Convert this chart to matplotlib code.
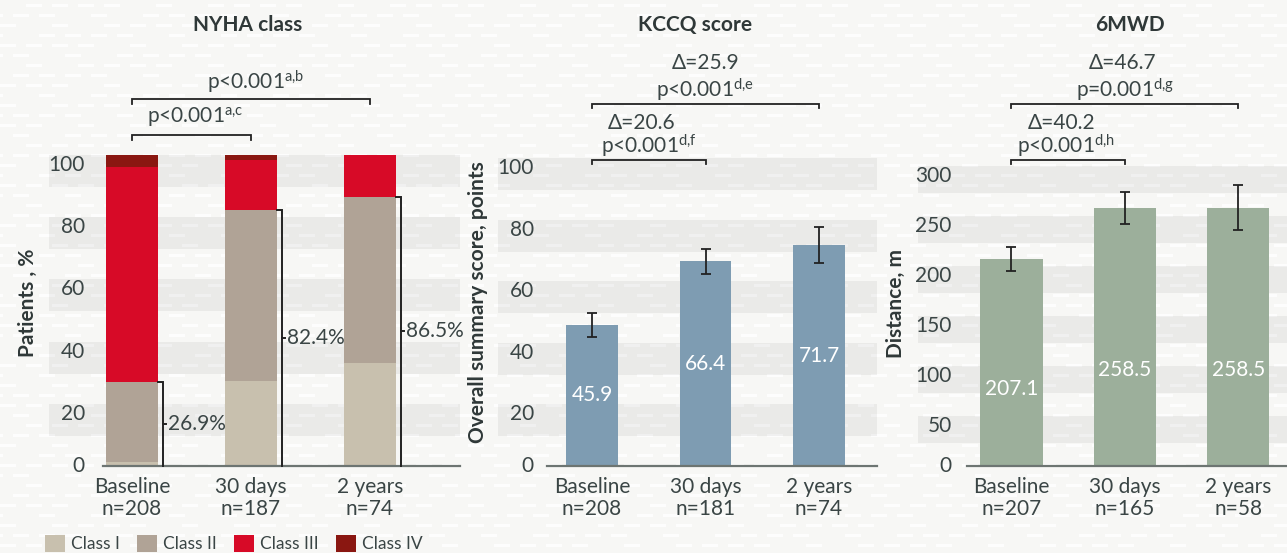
import numpy as np
import matplotlib
matplotlib.use("Agg")
import matplotlib.pyplot as plt
from matplotlib.patches import Rectangle, Patch
from matplotlib.transforms import blended_transform_factory

plt.rcParams["font.family"] = ["Lato", "DejaVu Sans"]
plt.rcParams["mathtext.fontset"] = "custom"
plt.rcParams["mathtext.rm"] = "Lato"
plt.rcParams["mathtext.it"] = "Lato:italic"
plt.rcParams["mathtext.bf"] = "Lato:bold"

# ---------------- data ----------------
timepoints = ["Baseline", "30 days", "2 years"]

nyha_n = [208, 187, 74]
nyha_class1 = [1.4, 27.4, 33.2]
nyha_class2 = [25.5, 55.0, 53.3]
nyha_class3 = [69.3, 16.0, 13.5]
nyha_class4 = [3.8, 1.6, 0.0]
nyha_class12 = [26.9, 82.4, 86.5]
nyha_classes = ["Class I", "Class II", "Class III", "Class IV"]
nyha_p = ["p<0.001", "p<0.001"]
nyha_p_notes = ["a,c", "a,b"]

kccq_n = [208, 181, 74]
kccq_mean = [45.9, 66.4, 71.7]
kccq_err = [3.9, 4.0, 5.8]
kccq_delta = [20.6, 25.9]
kccq_p = ["p<0.001", "p<0.001"]
kccq_p_notes = ["d,f", "d,e"]

mwd_n = [207, 165, 58]
mwd_mean = [207.1, 258.5, 258.5]
mwd_err = [12.0, 16.0, 22.5]
mwd_delta = [40.2, 46.7]
mwd_p = ["p<0.001", "p=0.001"]
mwd_p_notes = ["d,h", "d,g"]

# ---------------- style ----------------
W, H = 1287, 553
BG = "#f7f7f5"
TXT = "#3a4545"
LINE = "#222222"
AXIS = "#6d7572"
NYHA_COLORS = ["#c8c0ae", "#b0a396", "#d70a27", "#8a1711"]
KCCQ_COLOR = "#7e9cb2"
MWD_COLOR = "#9caf9b"
FS = 15

fig = plt.figure(figsize=(W / 100, H / 100), dpi=100, facecolor=BG)

# light paper texture: rows of short white dashes
tex = np.zeros((H, W, 4))
for r, y0 in enumerate(range(4, H, 10)):
    shift = 13 * (r % 2)
    for c, x0 in enumerate(range(-shift, W, 26)):
        if (3 * r + 5 * c) % 7 in (0, 4):
            continue
        tex[y0:y0 + 3, max(x0, 0):max(x0 + 16, 0), :] = [1, 1, 1, 0.85]
fig.figimage(tex, 0, 0, origin="upper", zorder=-1)


def px_axes(x0, x1, ytop, ybot):
    ax = fig.add_axes([x0 / W, 1 - ybot / H, (x1 - x0) / W, (ybot - ytop) / H])
    ax.set_facecolor("none")
    for s in ("top", "right", "left"):
        ax.spines[s].set_visible(False)
    ax.spines["bottom"].set_color(AXIS)
    ax.spines["bottom"].set_linewidth(1.6)
    return ax


def add_bands(ax, ticks, depth, x0px, x1px):
    tr = blended_transform_factory(fig.transFigure, ax.transData)
    for t in ticks:
        ax.add_patch(Rectangle((x0px / W, t - depth), (x1px - x0px) / W, depth,
                               transform=tr, facecolor="black", alpha=0.05,
                               edgecolor="none", zorder=0, clip_on=False))


def style_axes(ax, ticks, ns, ypad):
    ax.set_yticks(ticks)
    ax.set_yticklabels([str(t) for t in ticks])
    ax.tick_params(axis="y", length=0, pad=ypad, labelsize=FS, labelcolor=TXT)
    for t, lbl in zip(ticks, ax.get_yticklabels()):
        lbl.set_va("center" if t == 0 else "top")
    ax.set_xticks(range(len(timepoints)))
    ax.set_xticklabels([f"{tp}\nn={n}" for tp, n in zip(timepoints, ns)])
    ax.tick_params(axis="x", length=0, pad=8, labelsize=FS, labelcolor=TXT)
    for lbl in ax.get_xticklabels():
        lbl.set_linespacing(1.1)


def sig_bracket(ax, x0, x1, y, drop):
    ax.plot([x0, x0, x1, x1], [y - drop, y, y, y - drop], color=LINE, lw=1.3,
            clip_on=False, solid_joinstyle="miter", zorder=5)


def ptext(ax, x, y, p, note):
    sup = note.replace(",", "{,}")
    ax.text(x, y, p + r"$^{\mathrm{" + sup + "}}$", ha="center", va="center",
            fontsize=FS, color=TXT, clip_on=False)


def dtext(ax, x, y, d):
    ax.text(x, y, f"\u0394={d}", ha="center", va="center", fontsize=FS,
            color=TXT, clip_on=False)


x = list(range(len(timepoints)))

# ---------------- NYHA class ----------------
ax1 = px_axes(103, 460, 155, 466)
ax1.set_xlim((103 - 132) / 119, (460 - 132) / 119)
ax1.set_ylim(0, 100)
add_bands(ax1, [20, 40, 60, 80, 100], 10.3, 49, 460)
w1 = 0.437
bottom = [0.0, 0.0, 0.0]
for vals, col in zip([nyha_class1, nyha_class2, nyha_class3, nyha_class4], NYHA_COLORS):
    ax1.bar(x, vals, w1, bottom=bottom, color=col, zorder=2)
    bottom = [b + v for b, v in zip(bottom, vals)]
style_axes(ax1, [0, 20, 40, 60, 80, 100], nyha_n, 13)

gap = 4.5 / 119
for xi, top in zip(x, nyha_class12):
    edge = xi + w1 / 2
    xb = edge + gap
    ax1.plot([edge, xb, xb], [top, top, 0], color=LINE, lw=1.4, zorder=3,
             clip_on=False, solid_joinstyle="miter")
    ax1.plot([xb, xb + 3 / 119], [top / 2, top / 2], color=LINE, lw=1.4, zorder=3)
    ax1.annotate(f"{top}%", (xb + 3 / 119, top / 2), xytext=(1.5, 0),
                 textcoords="offset points", ha="left", va="center",
                 fontsize=FS, color=TXT)

sig_bracket(ax1, 0, 1, 106.4, 1.6)
ptext(ax1, 0.53, 112.3, nyha_p[0], nyha_p_notes[0])
sig_bracket(ax1, 0, 2, 118.0, 1.6)
ptext(ax1, 1.04, 123.6, nyha_p[1], nyha_p_notes[1])

# ---------------- KCCQ score ----------------
ax2 = px_axes(547, 877, 158, 466)
ax2.set_xlim((547 - 592) / 113.5, (877 - 592) / 113.5)
ax2.set_ylim(0, 100)
add_bands(ax2, [20, 40, 60, 80, 100], 10.4, 498, 877)
ax2.bar(x, kccq_mean, 0.458, color=KCCQ_COLOR, zorder=2)
ax2.errorbar(x, kccq_mean, yerr=kccq_err, fmt="none", ecolor=LINE,
             elinewidth=1.3, capsize=3.5, capthick=1.3, zorder=3)
for xi, v in zip(x, kccq_mean):
    ax2.text(xi, v * 0.5, f"{v}", ha="center", va="center", color="white",
             fontsize=FS, zorder=4)
style_axes(ax2, [0, 20, 40, 60, 80, 100], kccq_n, 9.5)

sig_bracket(ax2, 0, 1, 99.4, 1.3)
dtext(ax2, 0.44, 111.3, kccq_delta[0])
ptext(ax2, 0.5, 103.9, kccq_p[0], kccq_p_notes[0])
sig_bracket(ax2, 0, 2, 117.4, 1.3)
dtext(ax2, 1.0, 130.7, kccq_delta[1])
ptext(ax2, 1.0, 122.1, kccq_p[1], kccq_p_notes[1])

# ---------------- 6MWD ----------------
ax3 = px_axes(967, 1287, 166, 466)
ax3.set_xlim((967 - 1011.5) / 113.4, (1287 - 1011.5) / 113.4)
ax3.set_ylim(0, 300)
add_bands(ax3, [50, 100, 150, 200, 250, 300], 27, 918, 1287)
ax3.bar(x, mwd_mean, 0.547, color=MWD_COLOR, zorder=2)
ax3.errorbar(x, mwd_mean, yerr=mwd_err, fmt="none", ecolor=LINE,
             elinewidth=1.3, capsize=3.5, capthick=1.3, zorder=3)
for xi, v in zip(x, mwd_mean):
    ax3.text(xi, v * 0.37, f"{v}", ha="center", va="center", color="white",
             fontsize=FS, zorder=4)
style_axes(ax3, [0, 50, 100, 150, 200, 250, 300], mwd_n, 11)

sig_bracket(ax3, 0, 1, 306, 4)
dtext(ax3, 0.44, 342.7, mwd_delta[0])
ptext(ax3, 0.48, 320, mwd_p[0], mwd_p_notes[0])
sig_bracket(ax3, 0, 2, 361.7, 4)
dtext(ax3, 0.98, 403.3, mwd_delta[1])
ptext(ax3, 1.0, 376, mwd_p[1], mwd_p_notes[1])

# ---------------- titles and axis labels ----------------
for xc, title in [(248, "NYHA class"), (695, "KCCQ score"), (1130, "6MWD")]:
    fig.text(xc / W, 1 - 25 / H, title, ha="center", va="center",
             fontsize=FS, fontweight="bold", color="#2f3838")
for xc, yc, lab in [(28, 303, "Patients , %"),
                    (478, 302, "Overall summary score, points"),
                    (896, 304, "Distance, m")]:
    fig.text(xc / W, 1 - yc / H, lab, ha="center", va="center", rotation=90,
             fontsize=FS, fontweight="bold", color="#2f3838")

# ---------------- legend ----------------
handles = [Patch(facecolor=c, edgecolor="none") for c in NYHA_COLORS]
fig.legend(handles, nyha_classes, loc="upper left",
           bbox_to_anchor=(45 / W, 1 - 535 / H), ncol=4, frameon=False,
           fontsize=12.5, handlelength=1.15, handleheight=1.15, handletextpad=0.35,
           columnspacing=1.0, borderpad=0, borderaxespad=0, labelcolor=TXT)

fig.savefig("out.png", dpi=100, facecolor=BG)
